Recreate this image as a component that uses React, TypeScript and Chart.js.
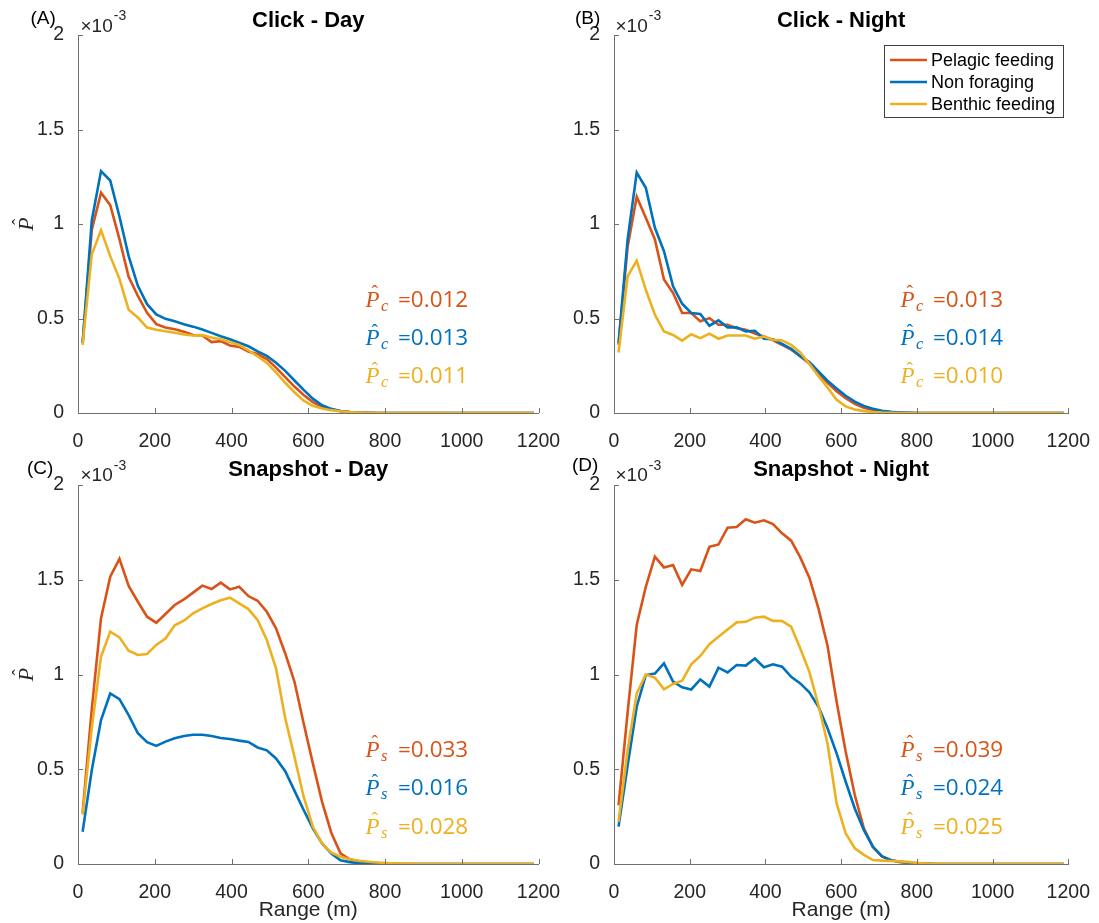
import React, { useEffect, useRef } from "react";
import { Chart, registerables } from "chart.js";

Chart.register(...registerables);

// ---------------- data ----------------
// Range bin centres (m)
const rangeM = [
  12, 36, 60, 84, 108, 132, 156, 180, 204, 228,
  252, 276, 300, 324, 348, 372, 396, 420, 444, 468,
  492, 516, 540, 564, 588, 612, 636, 660, 684, 708,
  732, 756, 780, 804, 828, 852, 876, 900, 924, 948,
  972, 996, 1020, 1044, 1068, 1092, 1116, 1140, 1164, 1188,
];

const xTicks = [0, 200, 400, 600, 800, 1000, 1200];
const yTicks = [0, 0.5, 1, 1.5, 2]; // in units of 10^-3

const seriesNames = ["Pelagic feeding", "Non foraging", "Benthic feeding"];
const panelTitles = ["Click - Day", "Click - Night", "Snapshot - Day", "Snapshot - Night"];
const panelLetters = ["(A)", "(B)", "(C)", "(D)"];
const estimateSubscripts = ["c", "c", "s", "s"];

// P-hat values (x 10^-3), 50 range bins each
const clickDayPelagic = [
  0.37, 0.97, 1.165, 1.10, 0.92, 0.72, 0.62, 0.53, 0.47, 0.452,
  0.443, 0.43, 0.413, 0.41, 0.375, 0.38, 0.357, 0.35, 0.325, 0.312,
  0.285, 0.24, 0.19, 0.14, 0.095, 0.058, 0.033, 0.019, 0.01, 0.005,
  0.002, 0.001, 0, 0, 0, 0, 0, 0, 0, 0,
  0, 0, 0, 0, 0, 0, 0, 0, 0, 0,
];
const clickDayNonForaging = [
  0.37, 1.02, 1.28, 1.23, 1.04, 0.83, 0.673, 0.576, 0.522, 0.498,
  0.485, 0.47, 0.457, 0.442, 0.424, 0.406, 0.39, 0.372, 0.353, 0.326,
  0.302, 0.266, 0.223, 0.172, 0.122, 0.076, 0.041, 0.022, 0.011, 0.005,
  0.002, 0.001, 0, 0, 0, 0, 0, 0, 0, 0,
  0, 0, 0, 0, 0, 0, 0, 0, 0, 0,
];
const clickDayBenthic = [
  0.36, 0.84, 0.967, 0.83, 0.71, 0.546, 0.505, 0.452, 0.44, 0.433,
  0.425, 0.415, 0.41, 0.412, 0.40, 0.39, 0.375, 0.36, 0.332, 0.30,
  0.265, 0.215, 0.16, 0.11, 0.065, 0.038, 0.024, 0.015, 0.009, 0.005,
  0.003, 0.001, 0, 0, 0, 0, 0, 0, 0, 0,
  0, 0, 0, 0, 0, 0, 0, 0, 0, 0,
];

const clickNightPelagic = [
  0.36, 0.88, 1.144, 1.033, 0.918, 0.706, 0.635, 0.529, 0.529, 0.485,
  0.502, 0.467, 0.467, 0.449, 0.44, 0.42, 0.405, 0.385, 0.36, 0.335,
  0.30, 0.26, 0.21, 0.16, 0.115, 0.078, 0.048, 0.028, 0.015, 0.008,
  0.004, 0.002, 0.001, 0, 0, 0, 0, 0, 0, 0,
  0, 0, 0, 0, 0, 0, 0, 0, 0, 0,
];
const clickNightNonForaging = [
  0.37, 0.918, 1.272, 1.192, 0.98, 0.856, 0.67, 0.578, 0.529, 0.524,
  0.462, 0.49, 0.453, 0.453, 0.432, 0.435, 0.393, 0.39, 0.365, 0.34,
  0.30, 0.27, 0.22, 0.171, 0.13, 0.091, 0.06, 0.037, 0.022, 0.012,
  0.006, 0.003, 0.001, 0, 0, 0, 0, 0, 0, 0,
  0, 0, 0, 0, 0, 0, 0, 0, 0, 0,
];
const clickNightBenthic = [
  0.32, 0.723, 0.806, 0.652, 0.52, 0.431, 0.413, 0.383, 0.417, 0.396,
  0.42, 0.393, 0.41, 0.41, 0.41, 0.393, 0.405, 0.387, 0.384, 0.36,
  0.32, 0.26, 0.195, 0.135, 0.07, 0.035, 0.018, 0.01, 0.005, 0.002,
  0.001, 0, 0, 0, 0, 0, 0, 0, 0, 0,
  0, 0, 0, 0, 0, 0, 0, 0, 0, 0,
];

const snapshotDayPelagic = [
  0.27, 0.82, 1.297, 1.516, 1.61, 1.467, 1.384, 1.305, 1.273, 1.319,
  1.367, 1.396, 1.432, 1.469, 1.451, 1.485, 1.449, 1.463, 1.414, 1.389,
  1.331, 1.244, 1.111, 0.963, 0.743, 0.531, 0.328, 0.165, 0.056, 0.025,
  0.015, 0.008, 0.004, 0.002, 0.001, 0, 0, 0, 0, 0,
  0, 0, 0, 0, 0, 0, 0, 0, 0, 0,
];
const snapshotDayNonForaging = [
  0.17, 0.496, 0.76, 0.90, 0.87, 0.786, 0.69, 0.643, 0.623, 0.646,
  0.663, 0.675, 0.682, 0.682, 0.675, 0.665, 0.66, 0.651, 0.644, 0.615,
  0.60, 0.557, 0.49, 0.387, 0.285, 0.188, 0.109, 0.055, 0.02, 0.01,
  0.004, 0.002, 0.001, 0, 0, 0, 0, 0, 0, 0,
  0, 0, 0, 0, 0, 0, 0, 0, 0, 0,
];
const snapshotDayBenthic = [
  0.26, 0.72, 1.094, 1.226, 1.196, 1.126, 1.103, 1.108, 1.156, 1.19,
  1.26, 1.284, 1.323, 1.349, 1.372, 1.392, 1.405, 1.375, 1.345, 1.288,
  1.182, 1.033, 0.769, 0.566, 0.355, 0.197, 0.109, 0.06, 0.038, 0.025,
  0.017, 0.012, 0.008, 0.005, 0.003, 0.002, 0.001, 0, 0, 0,
  0, 0, 0, 0, 0, 0, 0, 0, 0, 0,
];

const snapshotNightPelagic = [
  0.31, 0.80, 1.261, 1.463, 1.622, 1.565, 1.578, 1.473, 1.555, 1.546,
  1.674, 1.686, 1.775, 1.778, 1.819, 1.801, 1.814, 1.794, 1.745, 1.706,
  1.618, 1.511, 1.349, 1.152, 0.856, 0.592, 0.364, 0.188, 0.09, 0.04,
  0.02, 0.01, 0.005, 0.002, 0.001, 0, 0, 0, 0, 0,
  0, 0, 0, 0, 0, 0, 0, 0, 0, 0,
];
const snapshotNightNonForaging = [
  0.197, 0.52, 0.83, 0.997, 1.005, 1.059, 0.962, 0.932, 0.921, 0.974,
  0.936, 1.036, 1.011, 1.05, 1.047, 1.084, 1.038, 1.054, 1.041, 0.988,
  0.953, 0.906, 0.83, 0.716, 0.584, 0.434, 0.293, 0.179, 0.09, 0.04,
  0.02, 0.012, 0.006, 0.003, 0.001, 0, 0, 0, 0, 0,
  0, 0, 0, 0, 0, 0, 0, 0, 0, 0,
];
const snapshotNightBenthic = [
  0.223, 0.60, 0.90, 1.0, 0.983, 0.922, 0.95, 0.967, 1.054, 1.098,
  1.16, 1.199, 1.238, 1.275, 1.278, 1.30, 1.305, 1.283, 1.282, 1.252,
  1.137, 1.014, 0.838, 0.636, 0.32, 0.162, 0.083, 0.048, 0.021, 0.018,
  0.016, 0.014, 0.01, 0.005, 0.002, 0.001, 0, 0, 0, 0,
  0, 0, 0, 0, 0, 0, 0, 0, 0, 0,
];

// Overall detection-probability estimates shown in each panel
const clickDayEstimates = ["0.012", "0.013", "0.011"];
const clickNightEstimates = ["0.013", "0.014", "0.010"];
const snapshotDayEstimates = ["0.033", "0.016", "0.028"];
const snapshotNightEstimates = ["0.039", "0.024", "0.025"];

const panelSeries = [
  [clickDayPelagic, clickDayNonForaging, clickDayBenthic],
  [clickNightPelagic, clickNightNonForaging, clickNightBenthic],
  [snapshotDayPelagic, snapshotDayNonForaging, snapshotDayBenthic],
  [snapshotNightPelagic, snapshotNightNonForaging, snapshotNightBenthic],
];
const panelEstimates = [clickDayEstimates, clickNightEstimates, snapshotDayEstimates, snapshotNightEstimates];

// ---------------- layout & style ----------------
const PAGE_W = 1099;
const PAGE_H = 923;
const COLORS = ["#D95319", "#0072BD", "#EDB120"];
const TEXT = "#262626";
const AXIS = "#707070";
const SANS = '"Liberation Sans", Arial, Helvetica, sans-serif';
const SERIF = '"Liberation Serif", "Times New Roman", serif';
const NUMFONT = '"Open Sans", "Liberation Sans", sans-serif';
const Y_W = 64;
const X_H = 58.6;

const panelBoxes = [
  { left: 78, right: 538.5, top: 35, bottom: 413 },
  { left: 614, right: 1073.5, top: 35, bottom: 413 },
  { left: 78, right: 538.5, top: 485, bottom: 864 },
  { left: 614, right: 1073.5, top: 485, bottom: 864 },
];
const titleBaselines = [27, 27, 476, 476];
const letterPos = [
  { x: 30.5, y: 24 },
  { x: 575, y: 24 },
  { x: 27, y: 474 },
  { x: 572, y: 471 },
];
const expPos = [
  { x: 80.5, y: 31.5 },
  { x: 615.5, y: 31.5 },
  { x: 80.5, y: 481 },
  { x: 615.5, y: 481 },
];
const annotPos = [
  { px: 365.5, ex: 398, rows: [306.5, 345, 383] },
  { px: 900.5, ex: 933, rows: [306.5, 345, 383] },
  { px: 365.5, ex: 398, rows: [756.5, 795, 833.5] },
  { px: 900.5, ex: 933, rows: [756.5, 795, 833.5] },
];
const yTitlePos = [{ x: 26, y: 224 }, null, { x: 26, y: 674.5 }, null];
const legendBox = { x: 884.5, y: 45.5, w: 179, h: 72, rows: [60, 82, 104], lineX0: 890, lineX1: 927, textX: 931 };

function drawPHat(ctx: CanvasRenderingContext2D, x: number, baseline: number, size: number, color: string, sub?: string) {
  ctx.fillStyle = color;
  ctx.textBaseline = "alphabetic";
  ctx.textAlign = "left";
  ctx.font = `italic ${size}px ${SERIF}`;
  ctx.fillText("P", x, baseline);
  const w = ctx.measureText("P").width;
  ctx.font = `${size * 0.85}px ${SERIF}`;
  ctx.textAlign = "center";
  ctx.fillText("\u02C6", x + w * 0.66, baseline - size * 0.36);
  if (sub) {
    ctx.font = `italic ${size * 0.72}px ${SERIF}`;
    ctx.textAlign = "left";
    ctx.fillText(sub, x + w + 1.5, baseline + 4);
  }
}

function makeOverlay(p: number) {
  return {
    id: "overlay" + p,
    afterDraw(chart: any) {
      const ctx: CanvasRenderingContext2D = chart.ctx;
      const { left, right, bottom } = chart.chartArea;
      const xs = chart.scales.x;
      const ys = chart.scales.y;
      ctx.save();
      // inward tick marks
      ctx.strokeStyle = AXIS;
      ctx.lineWidth = 1;
      ctx.beginPath();
      for (const v of xTicks) {
        const px = Math.round(xs.getPixelForValue(v)) + 0.5;
        ctx.moveTo(px, bottom);
        ctx.lineTo(px, bottom - 5);
      }
      for (const v of yTicks) {
        const py = Math.round(ys.getPixelForValue(v)) + 0.5;
        ctx.moveTo(left, py);
        ctx.lineTo(left + 5, py);
      }
      ctx.stroke();

      // title
      ctx.fillStyle = "#000";
      ctx.font = `bold 22px ${SANS}`;
      ctx.textAlign = "center";
      ctx.textBaseline = "alphabetic";
      ctx.fillText(panelTitles[p], (left + right) / 2, titleBaselines[p]);

      // panel letter
      ctx.font = `19px ${SANS}`;
      ctx.textAlign = "left";
      ctx.fillStyle = "#000";
      ctx.fillText(panelLetters[p], letterPos[p].x, letterPos[p].y);

      // exponent label
      ctx.fillStyle = TEXT;
      ctx.font = `19px ${SANS}`;
      const base = "\u00D710";
      ctx.fillText(base, expPos[p].x, expPos[p].y);
      const bw = ctx.measureText(base).width;
      ctx.font = `14px ${SANS}`;
      ctx.fillText("-3", expPos[p].x + bw + 1, expPos[p].y - 11.5);

      // y-axis title
      const yt = yTitlePos[p];
      if (yt) {
        ctx.save();
        ctx.translate(yt.x, yt.y);
        ctx.rotate(-Math.PI / 2);
        ctx.font = `italic 22px ${SERIF}`;
        const w = ctx.measureText("P").width;
        drawPHat(ctx, -w / 2, 7, 22, TEXT);
        ctx.restore();
      }

      // estimates
      const a = annotPos[p];
      panelEstimates[p].forEach((val, i) => {
        drawPHat(ctx, a.px, a.rows[i], 23, COLORS[i], estimateSubscripts[p]);
        ctx.fillStyle = COLORS[i];
        ctx.font = `22.5px ${NUMFONT}`;
        ctx.textAlign = "left";
        ctx.textBaseline = "alphabetic";
        ctx.fillText("=" + val, a.ex, a.rows[i]);
      });

      // legend (panel B)
      if (p === 1) {
        const L = legendBox;
        ctx.fillStyle = "#fff";
        ctx.fillRect(L.x, L.y, L.w, L.h);
        ctx.strokeStyle = "#404040";
        ctx.lineWidth = 1;
        ctx.strokeRect(L.x, L.y, L.w, L.h);
        seriesNames.forEach((name, i) => {
          ctx.strokeStyle = COLORS[i];
          ctx.lineWidth = 2.5;
          ctx.beginPath();
          ctx.moveTo(L.lineX0, L.rows[i]);
          ctx.lineTo(L.lineX1, L.rows[i]);
          ctx.stroke();
          ctx.fillStyle = "#000";
          ctx.font = `18px ${SANS}`;
          ctx.textAlign = "left";
          ctx.textBaseline = "middle";
          ctx.fillText(name, L.textX, L.rows[i] + 1);
        });
      }
      ctx.restore();
    },
  };
}

function buildConfig(p: number): any {
  const box = panelBoxes[p];
  const series = panelSeries[p];
  const showXTitle = p >= 2;
  return {
    type: "line",
    data: {
      datasets: series.map((vals, i) => ({
        label: seriesNames[i],
        data: rangeM.map((x, j) => ({ x, y: vals[j] })),
        borderColor: COLORS[i],
        backgroundColor: COLORS[i],
        borderWidth: 2.6,
        pointRadius: 0,
        tension: 0,
        fill: false,
        order: 2 - i,
      })),
    },
    options: {
      responsive: false,
      animation: false,
      events: [],
      layout: {
        padding: {
          left: box.left - Y_W,
          top: box.top,
          right: PAGE_W - box.right,
          bottom: PAGE_H - box.bottom - X_H,
        },
      },
      scales: {
        x: {
          type: "linear",
          min: 0,
          max: 1200,
          afterBuildTicks: (s: any) => {
            s.ticks = xTicks.map((v) => ({ value: v }));
          },
          ticks: {
            callback: (v: any) => String(v),
            font: { family: SANS, size: 19.5 },
            color: TEXT,
            padding: 9,
            maxRotation: 0,
            autoSkip: false,
          },
          grid: { display: false },
          border: { display: true, color: AXIS, width: 1 },
          title: {
            display: showXTitle,
            text: "Range (m)",
            font: { family: SANS, size: 21 },
            color: TEXT,
            padding: 0,
          },
          afterFit: (s: any) => {
            s.height = X_H;
          },
        },
        y: {
          type: "linear",
          min: 0,
          max: 2,
          afterBuildTicks: (s: any) => {
            s.ticks = yTicks.map((v) => ({ value: v }));
          },
          ticks: {
            callback: (v: any) => String(v),
            font: { family: SANS, size: 19.5 },
            color: TEXT,
            padding: 6,
          },
          grid: { display: false },
          border: { display: true, color: AXIS, width: 1 },
          afterFit: (s: any) => {
            s.width = Y_W;
          },
        },
      },
      plugins: {
        legend: { display: false },
        tooltip: { enabled: false },
        title: { display: false },
      },
    },
    plugins: [makeOverlay(p)],
  };
}

function Panel({ index }: { index: number }) {
  const ref = useRef<HTMLCanvasElement>(null);
  useEffect(() => {
    const chart = new Chart(ref.current as HTMLCanvasElement, buildConfig(index));
    return () => chart.destroy();
  }, [index]);
  return (
    <canvas
      ref={ref}
      width={PAGE_W}
      height={PAGE_H}
      style={{ position: "absolute", left: 0, top: 0, width: PAGE_W, height: PAGE_H }}
    />
  );
}

export default function App() {
  return (
    <div style={{ position: "absolute", left: 0, top: 0, width: PAGE_W, height: PAGE_H, background: "#fff" }}>
      {[0, 1, 2, 3].map((i) => (
        <Panel key={i} index={i} />
      ))}
    </div>
  );
}
